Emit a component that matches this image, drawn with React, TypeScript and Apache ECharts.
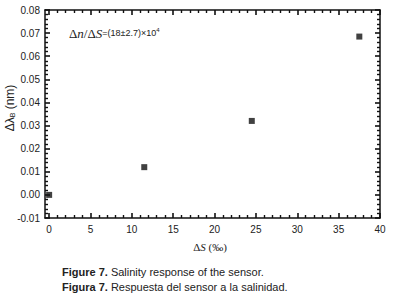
import React, { useEffect, useRef } from "react";
import * as echarts from "echarts";

const salinity = [0, 11.5, 24.5, 37.5];
const shift = [0.0, 0.012, 0.032, 0.0685];
const xMajor = [0, 5, 10, 15, 20, 25, 30, 35, 40];
const xMinor = [1, 2, 3, 4, 6, 7, 8, 9, 11, 12, 13, 14, 16, 17, 18, 19, 21, 22, 23, 24, 26, 27, 28, 29, 31, 32, 33, 34, 36, 37, 38, 39];

const SANS = "'Liberation Sans', Arial, sans-serif";
const SERIF = "'Liberation Serif', 'Times New Roman', serif";

export default function App() {
  const ref = useRef<HTMLDivElement>(null);
  useEffect(() => {
    if (!ref.current) return;
    const chart = echarts.init(ref.current, null, { renderer: "svg" });
    const lineStyle = { color: "#111", width: 1.5 };
    const majorTick = { color: "#111", width: 1.6 };
    const minorTick = { color: "#111", width: 1.4 };
    const xBase = {
      type: "value" as const,
      min: -0.5,
      max: 40,
      splitLine: { show: false },
    };
    const yBase = {
      type: "value" as const,
      min: -0.01,
      max: 0.08,
      interval: 0.01,
      splitLine: { show: false },
    };
    chart.setOption({
      animation: false,
      grid: { left: 45, right: 14, top: 10, bottom: 87, containLabel: false },
      xAxis: [
        {
          ...xBase,
          position: "bottom",
          axisLine: { show: true, onZero: false, lineStyle },
          axisTick: { show: true, inside: true, length: 5, customValues: xMajor, lineStyle: majorTick },
          axisLabel: { customValues: xMajor, color: "#222", fontFamily: SANS, fontSize: 10, margin: 6 },
        },
        {
          ...xBase,
          position: "bottom",
          axisLine: { show: false, onZero: false },
          axisTick: { show: true, inside: true, length: 3, customValues: xMinor, lineStyle: minorTick },
          axisLabel: { show: false },
        },
        {
          ...xBase,
          position: "top",
          axisLine: { show: true, onZero: false, lineStyle },
          axisTick: { show: true, inside: true, length: 5, customValues: xMajor, lineStyle: majorTick },
          axisLabel: { show: false },
        },
        {
          ...xBase,
          position: "top",
          axisLine: { show: false, onZero: false },
          axisTick: { show: true, inside: true, length: 3, customValues: xMinor, lineStyle: minorTick },
          axisLabel: { show: false },
        },
      ],
      yAxis: [
        {
          ...yBase,
          position: "left",
          axisLine: { show: true, onZero: false, lineStyle },
          axisTick: { show: true, inside: true, length: 5, lineStyle: majorTick },
          minorTick: { show: true, splitNumber: 5, length: 3, lineStyle: minorTick },
          axisLabel: {
            color: "#222",
            fontFamily: SANS,
            fontSize: 10,
            margin: 5,
            formatter: (v: number) => v.toFixed(2),
          },
        },
        {
          ...yBase,
          position: "right",
          axisLine: { show: true, onZero: false, lineStyle },
          axisTick: { show: true, inside: true, length: 5, lineStyle: majorTick },
          minorTick: { show: true, splitNumber: 5, length: 3, lineStyle: minorTick },
          axisLabel: { show: false },
        },
      ],
      series: [
        {
          type: "scatter",
          xAxisIndex: 0,
          yAxisIndex: 0,
          symbol: "rect",
          symbolSize: 6,
          itemStyle: { color: "#111" },
          data: salinity.map((s, i) => [s, shift[i]]),
        },
      ],
      graphic: [
        {
          type: "text",
          x: 10,
          y: 108,
          rotation: Math.PI / 2,
          style: {
            text: "{a|Δλ}{s|B}{a| (nm)}",
            align: "center",
            verticalAlign: "middle",
            fill: "#222",
            rich: {
              a: { fontFamily: SANS, fontSize: 12, fill: "#222" },
              s: { fontFamily: SANS, fontSize: 7, fill: "#222", verticalAlign: "bottom", padding: [5, 0, 0, 0] },
            },
          },
        },
        {
          type: "text",
          x: 210,
          y: 247,
          style: {
            text: "{a|Δ}{i|S}{a| (‰)}",
            align: "center",
            verticalAlign: "middle",
            rich: {
              a: { fontFamily: SERIF, fontSize: 11, fill: "#222" },
              i: { fontFamily: SERIF, fontSize: 11, fontStyle: "italic", fill: "#222" },
            },
          },
        },
        {
          type: "text",
          x: 69,
          y: 33,
          style: {
            text: "{a|Δ}{i|n}{a|/Δ}{i|S}{b|=(18±2.7)×10}{p|4}",
            align: "left",
            verticalAlign: "middle",
            rich: {
              a: { fontFamily: SERIF, fontSize: 13, fill: "#222" },
              i: { fontFamily: SERIF, fontSize: 13, fontStyle: "italic", fill: "#222" },
              b: { fontFamily: SANS, fontSize: 9, fill: "#222" },
              p: { fontFamily: SANS, fontSize: 6, fill: "#222", verticalAlign: "top", padding: [0, 0, 6, 0] },
            },
          },
        },
        {
          type: "text",
          x: 62,
          y: 272,
          style: {
            text: "{b|Figure 7.}{n| Salinity response of the sensor.}",
            verticalAlign: "middle",
            rich: {
              b: { fontFamily: SANS, fontSize: 11, fontWeight: "bold", fill: "#222" },
              n: { fontFamily: SANS, fontSize: 11, fill: "#222" },
            },
          },
        },
        {
          type: "text",
          x: 62,
          y: 287,
          style: {
            text: "{b|Figura 7.}{n| Respuesta del sensor a la salinidad.}",
            verticalAlign: "middle",
            rich: {
              b: { fontFamily: SANS, fontSize: 11, fontWeight: "bold", fill: "#222" },
              n: { fontFamily: SANS, fontSize: 11, fill: "#222" },
            },
          },
        },
      ],
    });
    return () => chart.dispose();
  }, []);
  return <div ref={ref} style={{ width: 394, height: 305, position: "absolute", left: 0, top: 0 }} />;
}
